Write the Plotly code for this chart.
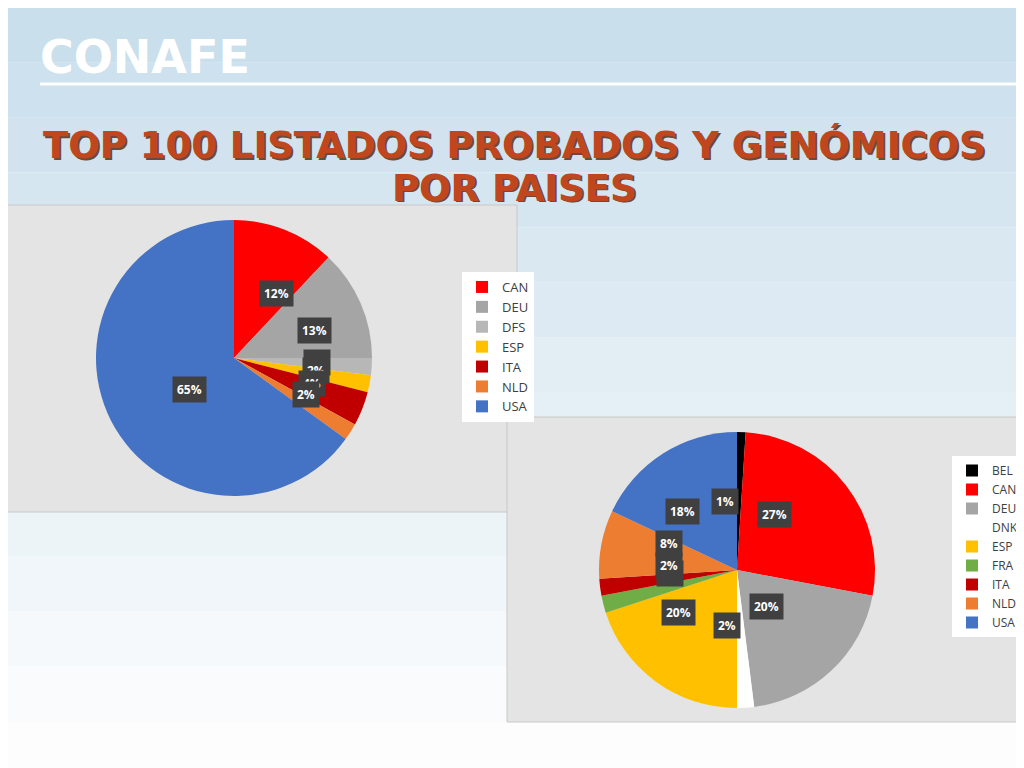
import math
import plotly.graph_objects as go

# left pie: probados
labels1 = ["CAN", "DEU", "DFS", "ESP", "ITA", "NLD", "USA"]
values1 = [12, 13, 2, 2, 4, 2, 65]
colors1 = ["#FF0000", "#A5A5A5", "#B7B7B7", "#FFC000", "#C00000", "#ED7D31", "#4472C4"]

# right pie: genomicos
labels2 = ["BEL", "CAN", "DEU", "DNK", "ESP", "FRA", "ITA", "NLD", "USA"]
values2 = [1, 27, 20, 2, 20, 2, 2, 8, 18]
colors2 = ["#000000", "#FF0000", "#A5A5A5", "#FFFFFF", "#FFC000", "#70AD47", "#C00000", "#ED7D31", "#4472C4"]

W, H = 1024, 768
OFF = 8  # page margin of the html body

def px(x):
    return (x - OFF) / W

def py(y):
    return 1 - (y - OFF) / H

fig = go.Figure()

# background gradient bands
top = (201, 222, 236)
n = 14
for i in range(n):
    t = 1 - (i + 0.5) / n
    c = tuple(int(top[k] + (255 - top[k]) * t) for k in range(3))
    fig.add_shape(type="rect", xref="paper", yref="paper", x0=0, x1=1,
                  y0=i / n, y1=(i + 1) / n, fillcolor="rgb(%d,%d,%d)" % c,
                  line_width=0, layer="below")

# chart boxes
for (x0, y0, x1, y1) in [(5, 205, 517, 512), (507, 417, 1019, 722)]:
    fig.add_shape(type="rect", xref="paper", yref="paper", x0=px(x0), x1=px(x1),
                  y0=py(y1), y1=py(y0), fillcolor="#E4E4E4",
                  line=dict(color="#C8C8C8", width=1), layer="below")

def add_pie(labels, values, colors, cx, cy, r, legend):
    fig.add_trace(go.Pie(
        labels=labels, values=values, sort=False, direction="clockwise", rotation=0,
        marker=dict(colors=colors, line=dict(width=0)),
        textinfo="none", hoverinfo="label+percent",
        domain=dict(x=[px(cx - r), px(cx + r)], y=[py(cy + r), py(cy - r)]),
        legend=legend,
    ))
    total = sum(values)
    cum = 0
    for v in values:
        a = 2 * math.pi * (cum + v / 2) / total
        cum += v
        if v > 50:
            x, y = cx - r * 0.45, cy + 32
        else:
            x = cx + r * 0.5 * math.sin(a)
            y = cy - r * 0.5 * math.cos(a)
        fig.add_annotation(x=px(x), y=py(y), xref="paper", yref="paper",
                           text="<b>%d%%</b>" % round(100 * v / total), showarrow=False,
                           font=dict(color="white", size=12, family="Open Sans"),
                           bgcolor="#404040", borderpad=4)

add_pie(labels1, values1, colors1, 234, 358, 138, "legend")
# trailing space keeps the second pie's labels apart from the first legend
add_pie([l + " " for l in labels2], values2, colors2, 737, 570, 138, "legend2")

fig.add_annotation(x=px(38), y=py(57), xref="paper", yref="paper", xanchor="left", yanchor="middle",
                   text="<b>CONAFE</b>", showarrow=False,
                   font=dict(family="DejaVu Sans", size=46, color="white"))
fig.add_shape(type="line", xref="paper", yref="paper", x0=px(40), x1=1,
              y0=py(84), y1=py(84), line=dict(color="white", width=3))

for txt, y in [("TOP 100 LISTADOS PROBADOS Y GENÓMICOS", 145), ("POR PAISES", 188)]:
    fig.add_annotation(x=px(516), y=py(y + 2), xref="paper", yref="paper", text="<b>%s</b>" % txt,
                       yanchor="middle", showarrow=False,
                       font=dict(family="DejaVu Sans", size=37, color="#6A4A3A"))
    fig.add_annotation(x=px(514), y=py(y), xref="paper", yref="paper", text="<b>%s</b>" % txt,
                       yanchor="middle", showarrow=False,
                       font=dict(family="DejaVu Sans", size=37, color="#C0461E"))

leg = dict(bgcolor="white", font=dict(size=13, family="Open Sans", color="#404040"),
           xanchor="left", yanchor="top", itemwidth=30, tracegroupgap=0, maxheight=400)
fig.update_layout(
    width=W, height=H, margin=dict(l=0, r=0, t=0, b=0),
    paper_bgcolor="white",
    legend=dict(leg, x=px(462), y=py(272)),
    legend2=dict(leg, x=px(952), y=py(456), font=dict(size=12, family="Open Sans", color="#404040")),
)

fig.write_html("out.html")
